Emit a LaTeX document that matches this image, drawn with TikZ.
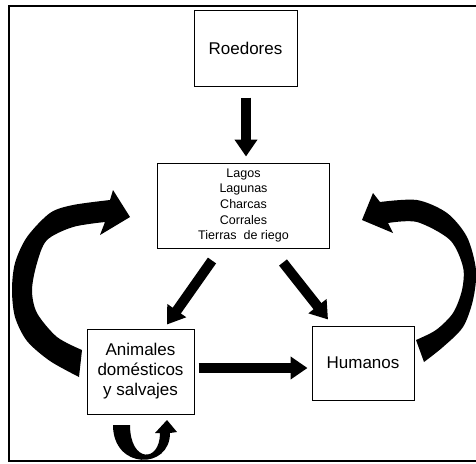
\documentclass[tikz,border=0pt]{standalone}
\usepackage{fontspec}
\setmainfont{Liberation Sans}
\usetikzlibrary{arrows.meta,calc}
\begin{document}
\begin{tikzpicture}[x=1pt,y=-1pt,line join=miter,
	caja/.style={draw,line width=1pt,inner sep=0pt,align=center,font=\fontsize{17}{20}\selectfont},
	flecha/.style={line width=10pt,-{Triangle[width=22pt,length=17pt]}}]
	
	\useasboundingbox (0,0) rectangle (476,463);
	\draw[line width=2.5pt] (476,6) -- (9,6) -- (9,461) -- (476,461); % marco
	
	\node[caja,minimum width=103pt,minimum height=76pt] (roed) at (245.5,48) {Roedores};
	\node[caja,minimum width=172pt,minimum height=85pt,font=\fontsize{12.5}{15.7}\selectfont] (sitios) at (243.5,205.5) {Lagos\\Lagunas\\Charcas\\Corrales\\Tierras\ \ de riego};
	\node[caja,minimum width=107pt,minimum height=85pt] (anim) at (140.5,371.5) {Animales\\domésticos\\y salvajes};
	\node[caja,minimum width=102pt,minimum height=74pt] (hum) at (363,363) {Humanos};
	
	\draw[flecha] ($(roed.south)+(0.5,11)$) -- ($(sitios.north)+(2.5,-6)$);
	\draw[flecha] ($(sitios.south)+(-31.5,12)$) -- ($(anim.north)+(26.5,-4)$);
	\draw[flecha] ($(sitios.south)+(39.5,14)$) -- ($(hum.north)+(-35,-6)$);
	\draw[flecha] ($(anim.east)+(4,-3.5)$) -- ($(hum.west)+(-4,5)$);
	
	% flechas curvas
	\fill plot[smooth] coordinates {(79,377) (50,361) (27,341) (15,317) (12,290) (15,263) (27,237) (50,213) (73,205) (110,200)}
		-- (113,190) -- (130,217) -- (100,235)
		-- plot[smooth] coordinates {(105,222) (73,227) (47,240) (37,263) (32,290) (37,313) (57,337) (82,350)} -- cycle;
	\fill plot[smooth] coordinates {(424,362) (443,347) (463,327) (473,300) (476,270) (467,237) (447,213) (417,200) (380,202)}
		-- (373,193) -- (362,220) -- (393,233)
		-- plot[smooth] coordinates {(388,223) (417,222) (450,240) (463,267) (462,290) (453,313) (436,330) (416,340)} -- cycle;
	\fill (113,425) .. controls (113,470) and (170,470) .. (170,433) -- (177,432) -- (167,420) -- (155,433) -- (160,433)
		.. controls (160,463) and (130,463) .. (130,425) -- cycle;
\end{tikzpicture}
\end{document}
